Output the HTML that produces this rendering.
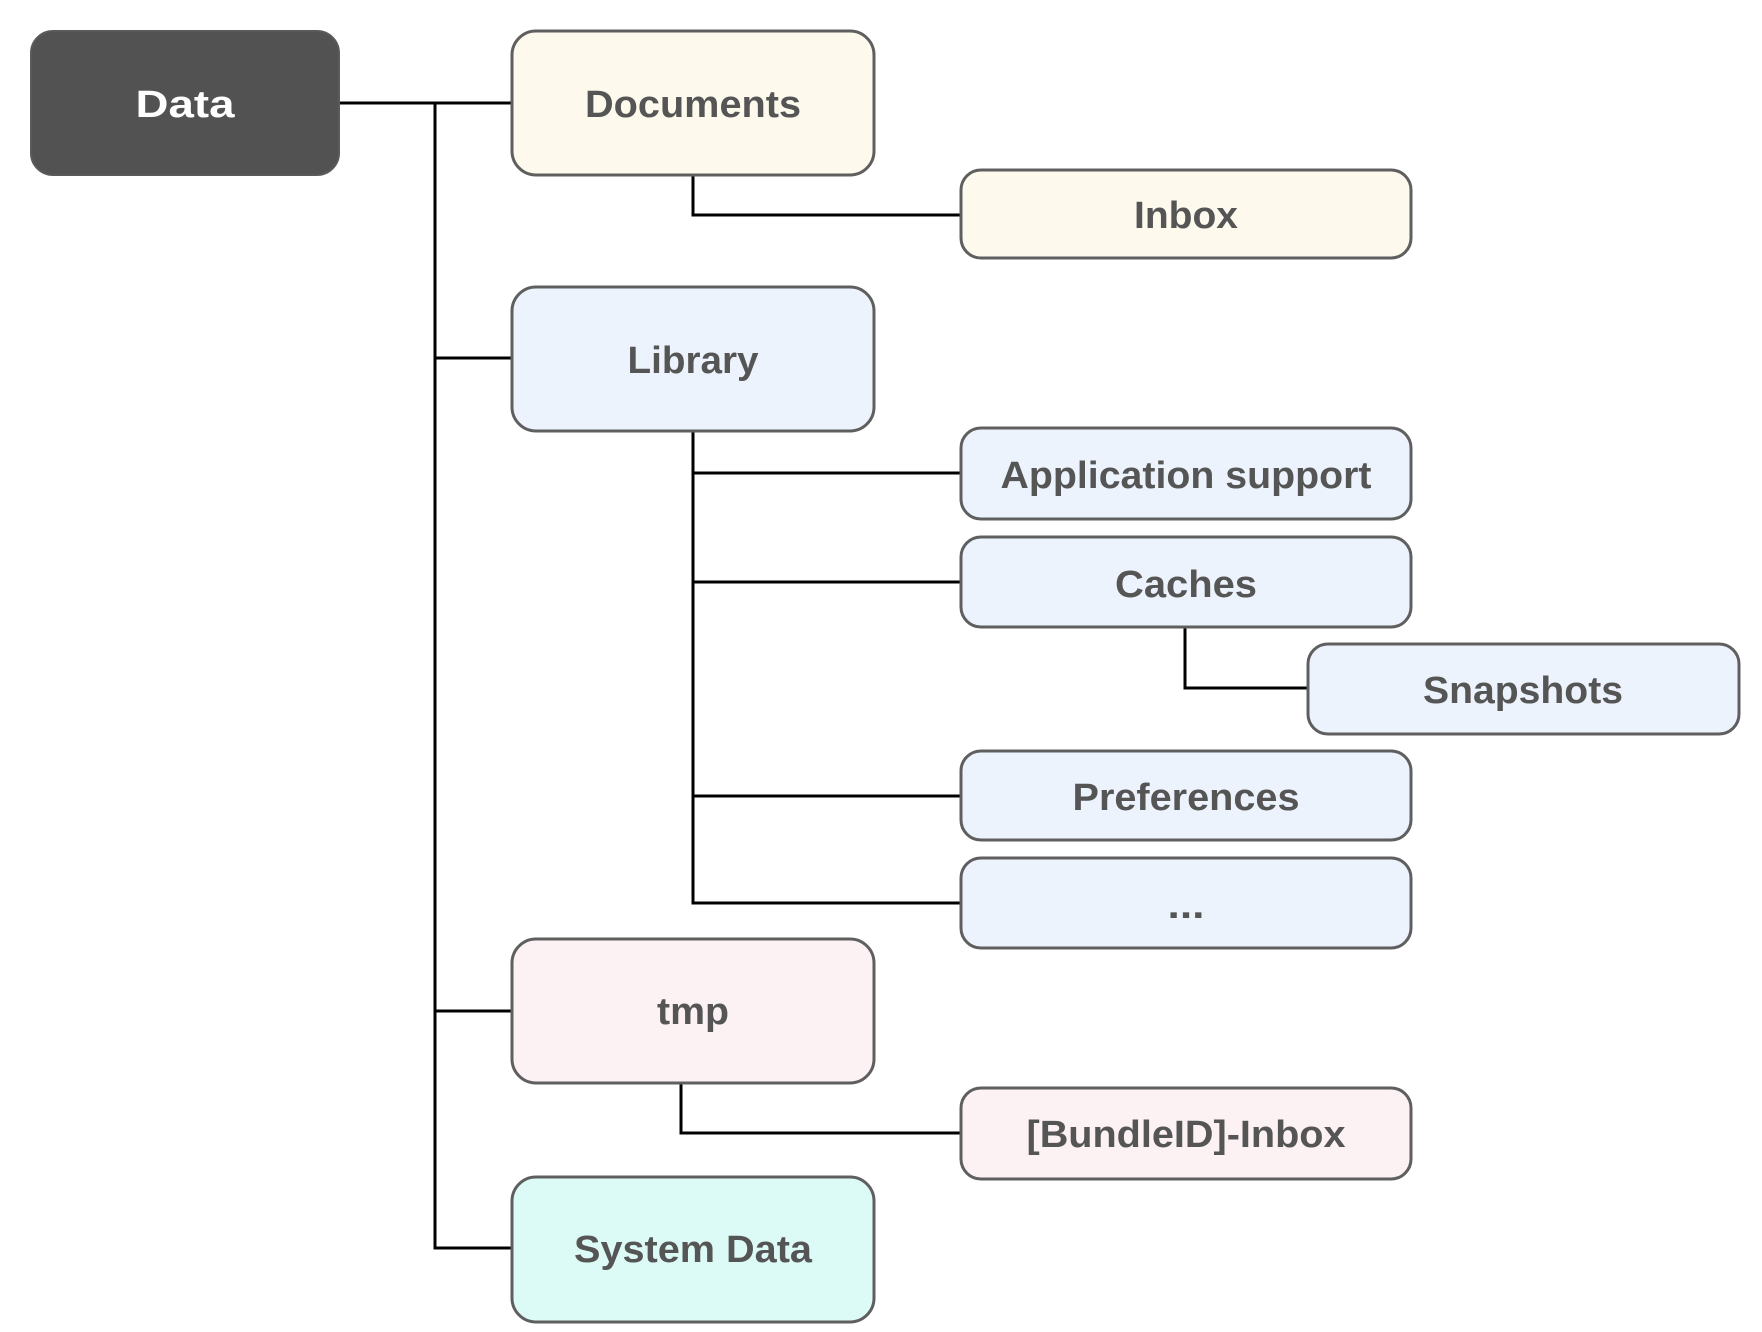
<!DOCTYPE html>
<html><head><meta charset="utf-8"><style>
html,body{margin:0;padding:0;background:#fff;}
svg{display:block;}
text{font-family:"Liberation Sans",Arial,sans-serif;font-weight:bold;font-size:38px;fill:#555;text-anchor:middle;}
.b{stroke:#5f5f5f;stroke-width:3;}
.l{stroke:#000;stroke-width:3;fill:none;}
</style></head><body>
<svg width="1762" height="1332" viewBox="0 0 1762 1332">
<g class="l">
<path d="M339 103H511"/>
<path d="M435 103V1248H512"/>
<path d="M435 358H511"/>
<path d="M435 1011H512"/>
<path d="M693 175V215H961"/>
<path d="M693 431V903H961"/>
<path d="M693 473H961"/>
<path d="M693 582H961"/>
<path d="M693 796H961"/>
<path d="M1185 627V688H1308"/>
<path d="M681 1083V1133H961"/>
</g>
<rect x="31" y="31" width="308" height="144" rx="22" fill="#525252" stroke="#5a5a5a" stroke-width="2"/>
<text x="185" y="117" style="fill:#fff" textLength="99" lengthAdjust="spacingAndGlyphs">Data</text>

<rect class="b" x="512" y="31" width="362" height="144" rx="24" fill="#fdf9ed"/>
<text x="693" y="117" textLength="216" lengthAdjust="spacingAndGlyphs">Documents</text>

<rect class="b" x="961" y="170" width="450" height="88" rx="20" fill="#fdf9ed"/>
<text x="1186" y="228" textLength="104" lengthAdjust="spacingAndGlyphs">Inbox</text>

<rect class="b" x="512" y="287" width="362" height="144" rx="24" fill="#ecf3fd"/>
<text x="693" y="373" textLength="131" lengthAdjust="spacingAndGlyphs">Library</text>

<rect class="b" x="961" y="428" width="450" height="91" rx="20" fill="#ecf3fd"/>
<text x="1186" y="488" textLength="371" lengthAdjust="spacingAndGlyphs">Application support</text>

<rect class="b" x="961" y="537" width="450" height="90" rx="20" fill="#ecf3fd"/>
<text x="1186" y="597" textLength="142" lengthAdjust="spacingAndGlyphs">Caches</text>

<rect class="b" x="1308" y="644" width="431" height="90" rx="20" fill="#ecf3fd"/>
<text x="1523" y="703" textLength="200" lengthAdjust="spacingAndGlyphs">Snapshots</text>

<rect class="b" x="961" y="751" width="450" height="89" rx="20" fill="#ecf3fd"/>
<text x="1186" y="810" textLength="227" lengthAdjust="spacingAndGlyphs">Preferences</text>

<rect class="b" x="961" y="858" width="450" height="90" rx="20" fill="#ecf3fd"/>
<text x="1186" y="918" textLength="37" lengthAdjust="spacingAndGlyphs">...</text>

<rect class="b" x="512" y="939" width="362" height="144" rx="24" fill="#fcf2f3"/>
<text x="693" y="1024" textLength="72" lengthAdjust="spacingAndGlyphs">tmp</text>

<rect class="b" x="961" y="1088" width="450" height="91" rx="20" fill="#fcf2f3"/>
<text x="1186" y="1147" textLength="319" lengthAdjust="spacingAndGlyphs">[BundleID]-Inbox</text>

<rect class="b" x="512" y="1177" width="362" height="145" rx="24" fill="#ddfbf6"/>
<text x="693" y="1262" textLength="238" lengthAdjust="spacingAndGlyphs">System Data</text>
</svg>
</body></html>
